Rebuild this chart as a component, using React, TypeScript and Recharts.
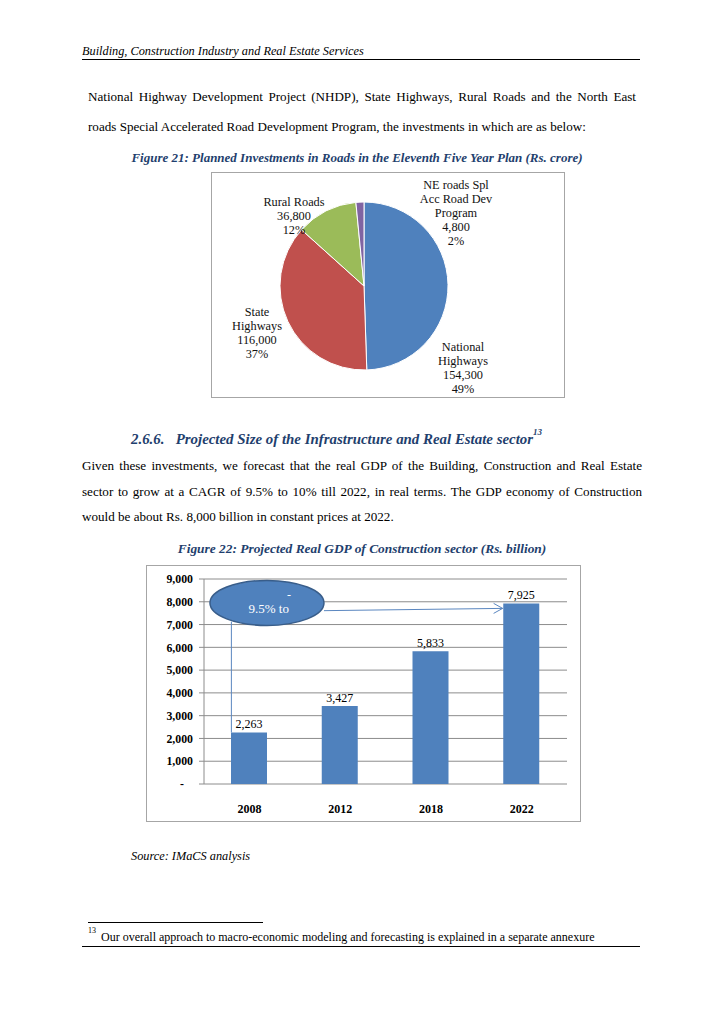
import React from "react";
import {
  Bar,
  BarChart,
  CartesianGrid,
  Cell,
  LabelList,
  Pie,
  PieChart,
  ReferenceDot,
  ReferenceLine,
  XAxis,
  YAxis,
} from "recharts";

// Figure 21: planned investments in roads (Rs. crore)
const roadSegments = ["National Highways", "State Highways", "Rural Roads", "NE roads Spl Acc Road Dev Program"];
const roadInvestments = [154300, 116000, 36800, 4800];
const roadLabelLines = [["National", "Highways"], ["State", "Highways"], ["Rural Roads"], ["NE roads Spl", "Acc Road Dev", "Program"]];

// Figure 22: projected real GDP of construction (Rs. billion)
const gdpYears = ["2008", "2012", "2018", "2022"];
const gdpValues = [2263, 3427, 5833, 7925];
const gdpTicks = [0, 1000, 2000, 3000, 4000, 5000, 6000, 7000, 8000, 9000];
const gdpBandEdges = [0, 1, 2, 3, 4];

const SERIF = '"Liberation Serif", "Times New Roman", serif';
const CAPTION_BLUE = "#1F3F6E";
const PIE_COLORS = ["#4F81BD", "#C0504D", "#9BBB59", "#8064A2"];
const AXIS_GREY = "#8c8c8c";
// label block centre relative to pie centre
const PIE_LABEL_OFFSETS = [
  { dx: 99, dy: 82 },
  { dx: -107, dy: 47 },
  { dx: -70, dy: -70 },
  { dx: 92, dy: -73 },
];

const roadData = roadSegments.map((name, i) => ({ name, value: roadInvestments[i], lines: roadLabelLines[i] }));
const gdpData = gdpYears.map((year, i) => ({ year, gdp: gdpValues[i] }));

const fmt = (v: number) => Number(v).toLocaleString("en-US");

function Txt({ left, cy, size, children, style }: { left: number; cy: number; size: number; children: React.ReactNode; style?: React.CSSProperties }) {
  return (
    <div style={{ position: "absolute", left, top: cy - size / 2, fontSize: size, lineHeight: `${size}px`, whiteSpace: "nowrap", ...style }}>
      {children}
    </div>
  );
}

function Justified({ left, cy, width, size, children }: { left: number; cy: number; width: number; size: number; children: React.ReactNode }) {
  return (
    <div
      style={{
        position: "absolute",
        left,
        top: cy - size / 2,
        width,
        fontSize: size,
        lineHeight: `${size}px`,
        textAlign: "justify",
        textAlignLast: "justify",
        whiteSpace: "nowrap",
      }}
    >
      {children}
    </div>
  );
}

function Centered({ cx, cy, size, children, style }: { cx: number; cy: number; size: number; children: React.ReactNode; style?: React.CSSProperties }) {
  return (
    <div style={{ position: "absolute", left: cx - 300, width: 600, top: cy - size / 2, fontSize: size, lineHeight: `${size}px`, textAlign: "center", whiteSpace: "nowrap", ...style }}>
      {children}
    </div>
  );
}

function Rule({ left, top, width }: { left: number; top: number; width: number }) {
  return <div style={{ position: "absolute", left, top, width, height: 1, background: "#000" }} />;
}

function renderPieLabel(props: any) {
  const { cx, cy, index, value, percent } = props;
  const entry = roadData[index];
  const lines = [...entry.lines, fmt(value), `${Math.round(percent * 100)}%`];
  const off = PIE_LABEL_OFFSETS[index];
  const x = cx + off.dx;
  const firstY = cy + off.dy - ((lines.length - 1) * 14) / 2;
  return (
    <text x={x} y={firstY} textAnchor="middle" fontFamily={SERIF} fontSize={12.3} fill="#111">
      {lines.map((l, i) => (
        <tspan key={i} x={x} y={firstY + i * 14} dy="0.36em">
          {l}
        </tspan>
      ))}
    </text>
  );
}

function YTick(props: any) {
  const { x, y, payload } = props;
  const zero = payload.value === 0;
  return (
    <text x={zero ? x - 9 : x} y={y} dy="0.36em" textAnchor="end" fontFamily={SERIF} fontSize={11.8} fontWeight="bold" fill="#000">
      {zero ? "-" : fmt(payload.value)}
    </text>
  );
}

export default function App() {
  return (
    <div style={{ position: "absolute", left: 0, top: 0, width: 728, height: 1029, background: "#fff", fontFamily: SERIF, color: "#000" }}>
      <Txt left={82} cy={51} size={12.3} style={{ fontStyle: "italic" }}>
        Building, Construction Industry and Real Estate Services
      </Txt>
      <Rule left={82} top={59} width={558} />

      <Justified left={88} cy={97} width={548} size={13.1}>
        National Highway Development Project (NHDP), State Highways, Rural Roads and the North East
      </Justified>
      <Txt left={88} cy={127} size={13.1}>
        roads Special Accelerated Road Development Program, the investments in which are as below:
      </Txt>

      <Centered cx={357} cy={157} size={13} style={{ fontWeight: "bold", fontStyle: "italic", color: CAPTION_BLUE }}>
        Figure 21: Planned Investments in Roads in the Eleventh Five Year Plan (Rs. crore)
      </Centered>

      <div style={{ position: "absolute", left: 211, top: 172, width: 352, height: 224, border: "1px solid #a6a6a6" }}>
        <PieChart width={352} height={224} margin={{ top: 0, right: 0, bottom: 0, left: 0 }}>
          <Pie
            data={roadData}
            dataKey="value"
            nameKey="name"
            cx={152}
            cy={113}
            outerRadius={84}
            startAngle={90}
            endAngle={-270}
            stroke="#fff"
            strokeWidth={1}
            label={renderPieLabel}
            labelLine={false}
            isAnimationActive={false}
          >
            {roadData.map((d, i) => (
              <Cell key={d.name} fill={PIE_COLORS[i]} />
            ))}
          </Pie>
        </PieChart>
      </div>

      <Txt left={131} cy={432} size={14.9} style={{ fontWeight: "bold", fontStyle: "italic", color: CAPTION_BLUE }}>
        2.6.6.&nbsp;&nbsp; Projected Size of the Infrastructure and Real Estate sector
        <span style={{ fontSize: 9, verticalAlign: "9px" }}>13</span>
      </Txt>

      <Justified left={82} cy={466} width={560} size={13.1}>
        Given these investments, we forecast that the real GDP of the Building, Construction and Real Estate
      </Justified>
      <Justified left={82} cy={492} width={560} size={13.1}>
        sector to grow at a CAGR of 9.5% to 10% till 2022, in real terms. The GDP economy of Construction
      </Justified>
      <Txt left={82} cy={517} size={13.1}>
        would be about Rs. 8,000 billion in constant prices at 2022.
      </Txt>

      <Centered cx={362} cy={549} size={13.4} style={{ fontWeight: "bold", fontStyle: "italic", color: CAPTION_BLUE }}>
        Figure 22: Projected Real GDP of Construction sector (Rs. billion)
      </Centered>

      <div style={{ position: "absolute", left: 146, top: 565, width: 433, height: 255, border: "1px solid #a6a6a6" }}>
        <BarChart width={433} height={255} data={gdpData} margin={{ top: 13, right: 13, left: 0, bottom: 0 }}>
          <CartesianGrid vertical={false} stroke={AXIS_GREY} />
          <XAxis
            xAxisId="edges"
            type="number"
            domain={[0, 4]}
            ticks={gdpBandEdges}
            height={0}
            tick={false}
            tickSize={4}
            stroke={AXIS_GREY}
          />
          <XAxis
            dataKey="year"
            height={37}
            axisLine={false}
            tickLine={false}
            tickSize={6}
            tickMargin={14}
            tick={{ fontFamily: SERIF, fontSize: 12, fontWeight: "bold", fill: "#000" }}
          />
          <YAxis domain={[0, 9000]} ticks={gdpTicks} interval={0} width={57} tickSize={5} tickMargin={6} stroke={AXIS_GREY} tick={YTick} />
          <Bar dataKey="gdp" fill="#4F81BD" barSize={36} isAnimationActive={false}>
            <LabelList dataKey="gdp" position="top" offset={4} formatter={(v: any) => fmt(v)} fontFamily={SERIF} fontSize={12} fill="#000" />
          </Bar>
          <ReferenceLine
            segment={[
              { x: "2008", y: 7125 },
              { x: "2008", y: 2263 },
            ]}
            shape={(p: any) => <line x1={p.x1 - 18} y1={p.y1} x2={p.x2 - 18} y2={p.y2} stroke="#5b87c0" strokeWidth={1} />}
          />
          <ReferenceLine
            segment={[
              { x: "2008", y: 7610 },
              { x: "2022", y: 7710 },
            ]}
            shape={(p: any) => {
              const sx = p.x1 + 74.6;
              const ex = p.x2 - 19;
              return (
                <g stroke="#5b87c0" strokeWidth={1} fill="none">
                  <line x1={sx} y1={p.y1} x2={ex} y2={p.y2} />
                  <path d={`M${ex - 9},${p.y2 - 5} L${ex},${p.y2} L${ex - 9},${p.y2 + 5}`} />
                </g>
              );
            }}
          />
          <ReferenceDot
            x="2008"
            y={7950}
            shape={(p: any) => (
              <g>
                <ellipse cx={p.cx + 17.6} cy={p.cy} rx={57} ry={22.5} fill="#4F81BD" stroke="#385D8A" strokeWidth={1.5} />
                <text x={p.cx + 39.6} y={p.cy - 8.5} dy="0.36em" textAnchor="middle" fontFamily={SERIF} fontSize={12} fill="#fff">
                  -
                </text>
                <text x={p.cx + 19.3} y={p.cy + 5.5} dy="0.36em" textAnchor="middle" fontFamily={SERIF} fontSize={13} fill="#fff">
                  9.5% to
                </text>
              </g>
            )}
          />
        </BarChart>
      </div>

      <Txt left={131} cy={856} size={12.3} style={{ fontStyle: "italic" }}>
        Source: IMaCS analysis
      </Txt>

      <Rule left={88} top={922} width={175} />
      <Txt left={88} cy={931} size={8}>
        13
      </Txt>
      <Txt left={101} cy={937} size={12}>
        Our overall approach to macro-economic modeling and forecasting is explained in a separate annexure
      </Txt>
      <Rule left={82} top={946} width={558} />
    </div>
  );
}
